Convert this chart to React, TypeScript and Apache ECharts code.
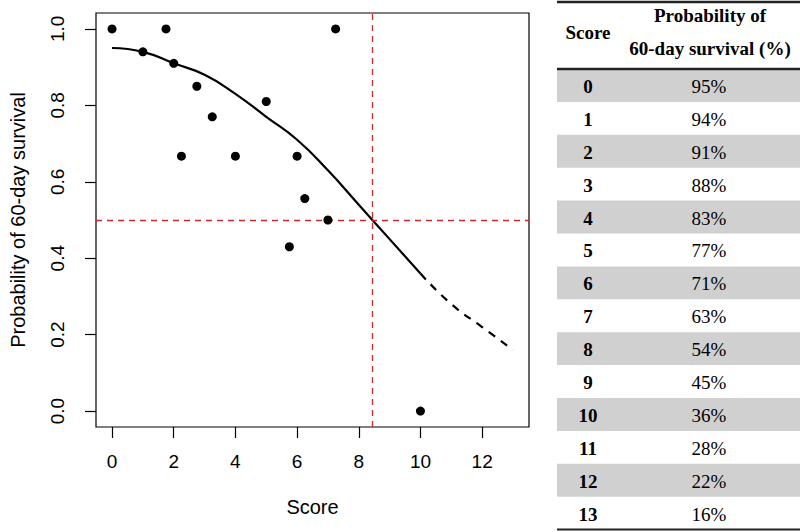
import React, { useEffect, useRef } from "react";
import * as echarts from "echarts";

// Observed data points (score, probability)
const pointX = [0, 1.75, 7.25, 1, 2, 2.75, 5, 3.25, 2.25, 4, 6, 6.25, 7, 5.75, 10];
const pointY = [1.0, 1.0, 1.0, 0.94, 0.91, 0.85, 0.81, 0.77, 0.667, 0.667, 0.667, 0.556, 0.5, 0.43, 0.0];

// Table: score -> probability of 60-day survival (%)
const tableScores = [0, 1, 2, 3, 4, 5, 6, 7, 8, 9, 10, 11, 12, 13];
const tableProbs = [95, 94, 91, 88, 83, 77, 71, 63, 54, 45, 36, 28, 22, 16];

// Axis ticks
const xTicks = [0, 2, 4, 6, 8, 10, 12];
const yTicks = [0, 0.2, 0.4, 0.6, 0.8, 1.0];

// Cut-off reference lines
const cutScore = 8.43;
const cutProb = 0.5;
const observedMaxScore = 10;

export default function App() {
  const ref = useRef<HTMLDivElement>(null);

  useEffect(() => {
    if (!ref.current) return;
    const chart = echarts.init(ref.current, undefined, { renderer: "svg" });

    const curve = tableScores.map((s, i) => [s, tableProbs[i] / 100]);
    const solid = curve.filter((d) => d[0] <= observedMaxScore);
    const dashed = curve.filter((d) => d[0] >= observedMaxScore);

    const sans = "Liberation Sans, Arial, sans-serif";
    const serif = "Liberation Serif, Times New Roman, serif";

    // Table graphics
    const tLeft = 557;
    const tRight = 800;
    const headTop = 2;
    const headBottom = 69;
    const rowH = 32.9;
    const scoreX = 588;
    const probX = 709;
    const graphics: any[] = [];
    tableScores.forEach((s, i) => {
      const y0 = headBottom + i * rowH;
      if (i % 2 === 0) {
        graphics.push({
          type: "rect",
          shape: { x: tLeft, y: y0, width: tRight - tLeft, height: rowH },
          style: { fill: "#d0d0d0" },
          silent: true,
        });
      }
      graphics.push({
        type: "text",
        x: scoreX,
        y: y0 + rowH / 2 + 1,
        style: {
          text: String(s),
          font: `bold 19px ${serif}`,
          fill: "#000",
          align: "center",
          verticalAlign: "middle",
        },
      });
      graphics.push({
        type: "text",
        x: probX,
        y: y0 + rowH / 2 + 1,
        style: {
          text: `${tableProbs[i]}%`,
          font: `19px ${serif}`,
          fill: "#000",
          align: "center",
          verticalAlign: "middle",
        },
      });
    });
    graphics.push(
      { type: "line", shape: { x1: tLeft, y1: headTop, x2: tRight, y2: headTop }, style: { stroke: "#222", lineWidth: 2.5 } },
      { type: "line", shape: { x1: tLeft, y1: headBottom, x2: tRight, y2: headBottom }, style: { stroke: "#222", lineWidth: 2.5 } },
      {
        type: "line",
        shape: { x1: tLeft, y1: headBottom + tableScores.length * rowH, x2: tRight, y2: headBottom + tableScores.length * rowH },
        style: { stroke: "#222", lineWidth: 2 },
      },
      {
        type: "text",
        x: scoreX,
        y: 32,
        style: { text: "Score", font: `bold 19px ${serif}`, fill: "#000", align: "center", verticalAlign: "middle" },
      },
      {
        type: "text",
        x: 710,
        y: 15,
        style: { text: "Probability of", font: `bold 19px ${serif}`, fill: "#000", align: "center", verticalAlign: "middle" },
      },
      {
        type: "text",
        x: 710,
        y: 48,
        style: { text: "60-day survival (%)", font: `bold 19px ${serif}`, fill: "#000", align: "center", verticalAlign: "middle" },
      }
    );

    chart.setOption({
      animation: false,
      backgroundColor: "#fff",
      grid: {
        left: 90,
        right: 271,
        top: 13,
        bottom: 105,
        show: true,
        borderColor: "#000",
        borderWidth: 1.2,
        backgroundColor: "transparent",
      },
      xAxis: {
        type: "value",
        min: -0.52,
        max: 13.52,
        name: "Score",
        nameLocation: "middle",
        nameGap: 70,
        nameTextStyle: { fontFamily: sans, fontSize: 20, color: "#000" },
        axisLine: { show: false, onZero: false },
        splitLine: { show: false },
        axisTick: { show: true, inside: false, length: 11, customValues: xTicks, lineStyle: { color: "#000", width: 1.2 } },
        axisLabel: {
          customValues: xTicks,
          margin: 25,
          fontFamily: sans,
          fontSize: 19,
          color: "#000",
        },
      },
      yAxis: {
        type: "value",
        min: -0.0416,
        max: 1.0416,
        name: "Probability of 60-day survival",
        nameLocation: "middle",
        nameGap: 68,
        nameRotate: 90,
        nameTextStyle: { fontFamily: sans, fontSize: 20, color: "#000" },
        axisLine: { show: false, onZero: false },
        splitLine: { show: false },
        axisTick: { show: true, inside: false, length: 11, customValues: yTicks, lineStyle: { color: "#000", width: 1.2 } },
        axisLabel: {
          customValues: yTicks,
          rotate: 90,
          margin: 29,
          fontFamily: sans,
          fontSize: 19,
          color: "#000",
          formatter: (v: number) => v.toFixed(1),
        },
      },
      series: [
        {
          type: "line",
          data: solid,
          smooth: 0.5,
          showSymbol: false,
          lineStyle: { color: "#000", width: 2.2 },
          z: 3,
          markLine: {
            silent: true,
            symbol: "none",
            label: { show: false },
            lineStyle: { color: "#cc2a2a", type: [6, 5], width: 1.3 },
            data: [{ xAxis: cutScore }, { yAxis: cutProb }],
          },
        },
        {
          type: "line",
          data: dashed,
          smooth: 0.5,
          showSymbol: false,
          lineStyle: { color: "#000", width: 2.2, type: [8, 7] },
          z: 3,
        },
        {
          type: "scatter",
          data: pointX.map((x, i) => [x, pointY[i]]),
          symbol: "circle",
          symbolSize: 9,
          itemStyle: { color: "#000", opacity: 1 },
          z: 5,
        },
      ],
      graphic: graphics,
    });

    return () => chart.dispose();
  }, []);

  return (
    <div
      ref={ref}
      style={{ position: "fixed", left: 0, top: 0, width: 800, height: 532 }}
    />
  );
}
